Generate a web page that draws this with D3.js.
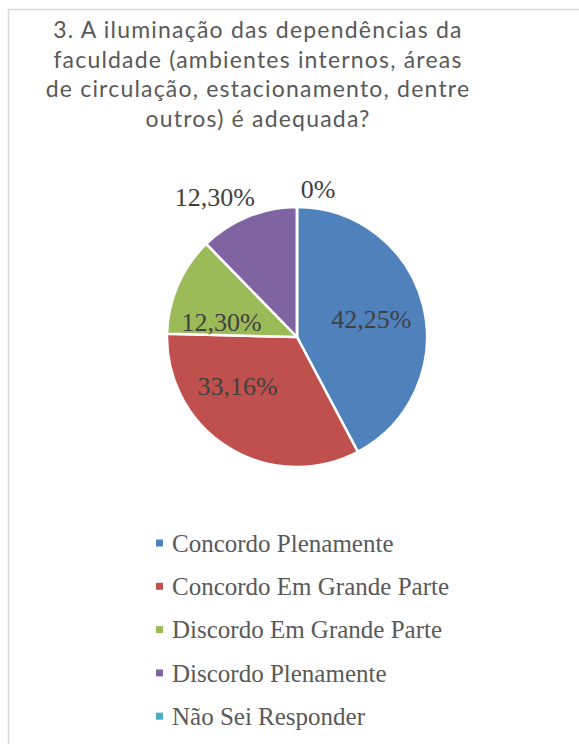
<!DOCTYPE html>
<html>
<head>
<meta charset="utf-8">
<script src="https://cdn.jsdelivr.net/npm/d3@7"></script>
<style>
  body { margin: 0; background: #fff; }
  .title { font-family: Lato, "Open Sans", sans-serif; fill: #595959; letter-spacing: 1.2px; }
  .lbl { font-family: "Liberation Serif", serif; fill: #404040; }
  .leg { font-family: "Liberation Serif", serif; fill: #595959; }
</style>
</head>
<body>
<div id="body"></div>
<script>
var titleLines = [
  "3. A iluminação das dependências da",
  "faculdade (ambientes internos, áreas",
  "de circulação, estacionamento, dentre",
  "outros) é adequada?"
];
var categories = ["Concordo Plenamente", "Concordo Em Grande Parte", "Discordo Em Grande Parte", "Discordo Plenamente", "Não Sei Responder"];
var values = [42.25, 33.16, 12.30, 12.30, 0];
var labels = ["42,25%", "33,16%", "12,30%", "12,30%", "0%"];
var colors = ["#4f81bd", "#c0504d", "#9bbb59", "#8064a2", "#4bacc6"];

var width = 579, height = 744;
var cx = 297, cy = 337, radius = 130;

// label placement: radius factor and small nudge like excel's best fit
var labelRadius = [0.59, 0.59, 0.6, 1.25, 1.14];
var labelNudge = [[0, 0], [-19, -16], [-4, 16], [-21, 10], [21, 0]];

var svg = d3.select("#body")
  .append("svg")
  .attr("width", width)
  .attr("height", height);

// chart border
svg.append("path")
  .attr("d", "M8.5," + height + "V9.5H" + width)
  .attr("fill", "none")
  .attr("stroke", "#d9d9d9")
  .attr("stroke-width", 1.5);

svg.selectAll(".title")
  .data(titleLines)
  .enter().append("text")
  .attr("class", "title")
  .attr("x", 258)
  .attr("y", function(d, i) { return 38 + i * 29.6; })
  .attr("text-anchor", "middle")
  .style("font-size", "23px")
  .text(function(d) { return d; });

var pie = d3.pie().sort(null).value(function(d) { return d; });
var arcs = pie(values);
var arc = d3.arc().innerRadius(0).outerRadius(radius);

var chart = svg.append("g")
  .attr("transform", "translate(" + cx + "," + cy + ")");

chart.selectAll("path")
  .data(arcs)
  .enter().append("path")
  .attr("d", arc)
  .attr("fill", function(d, i) { return colors[i]; })
  .attr("stroke", "#fff")
  .attr("stroke-width", 2.5)
  .attr("stroke-linejoin", "round");

chart.selectAll(".lbl")
  .data(arcs)
  .enter().append("text")
  .attr("class", "lbl")
  .attr("transform", function(d, i) {
    var r = radius * labelRadius[i];
    var c = d3.arc().innerRadius(r).outerRadius(r).centroid(d);
    return "translate(" + (c[0] + labelNudge[i][0]) + "," + (c[1] + labelNudge[i][1]) + ")";
  })
  .attr("text-anchor", "middle")
  .attr("dy", "0.35em")
  .style("font-size", "26px")
  .text(function(d, i) { return labels[i]; });

var legend = svg.selectAll(".legrow")
  .data(categories)
  .enter().append("g")
  .attr("class", "legrow")
  .attr("transform", function(d, i) { return "translate(156," + (543 + i * 43.3) + ")"; });

legend.append("rect")
  .attr("x", 0)
  .attr("y", -3.5)
  .attr("width", 7)
  .attr("height", 7)
  .attr("fill", function(d, i) { return colors[i]; });

legend.append("text")
  .attr("class", "leg")
  .attr("x", 16)
  .attr("dy", "0.35em")
  .style("font-size", "25px")
  .text(function(d) { return d; });
</script>
</body>
</html>
